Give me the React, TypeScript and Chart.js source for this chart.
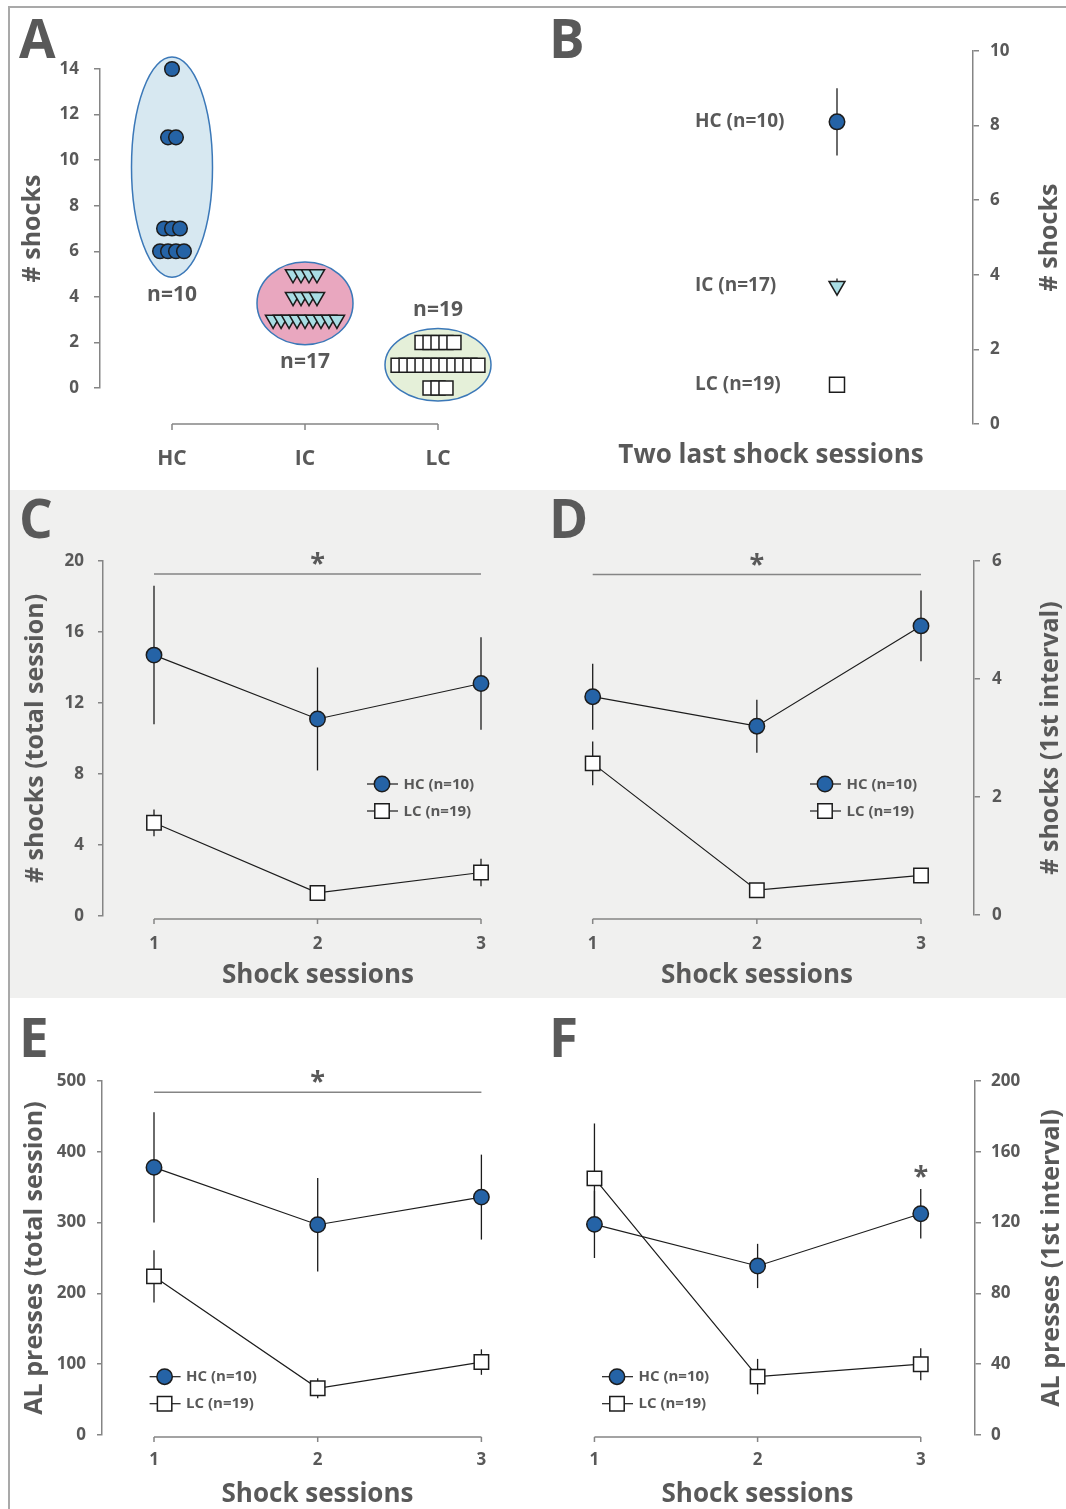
import { useEffect, useRef } from 'react';
import { Chart, registerables } from 'chart.js';
import { drawPoint } from 'chart.js/helpers';

Chart.register(...registerables);

const FONT = '"Open Sans", "Noto Sans", "DejaVu Sans", sans-serif';
const INK = '#595959';
const AXIS = '#858585';
const LINE = '#1c1c1c';
const HC_FILL = '#2563a6';
const IC_FILL = '#a9dde4';
const LC_FILL = '#ffffff';

Chart.defaults.font.family = FONT;
Chart.defaults.color = INK;

// ---------- data ----------
const groupNames = ['HC', 'IC', 'LC'];

// # shocks per rat over the two last shock sessions
const hcShocks = [14, 11, 11, 7, 7, 7, 6, 6, 6, 6];
const icShocks = [5, 5, 5, 5, 4, 4, 4, 4, 3, 3, 3, 3, 3, 3, 3, 3, 3];
const lcShocks = [2, 2, 2, 2, 2, 1, 1, 1, 1, 1, 1, 1, 1, 1, 1, 1, 0, 0, 0];

// group mean ± SEM, two last shock sessions
const lastTwoMean = [8.1, 3.7, 1.05];
const lastTwoSem = [0.9, 0.2, 0.1];

const sessions = [1, 2, 3];

const shocksTotalHC = [14.7, 11.1, 13.1];
const shocksTotalHCsem = [3.9, 2.9, 2.6];
const shocksTotalLC = [5.25, 1.3, 2.45];
const shocksTotalLCsem = [0.75, 0.4, 0.78];

const shocksFirstHC = [3.7, 3.2, 4.9];
const shocksFirstHCsem = [0.56, 0.45, 0.6];
const shocksFirstLC = [2.57, 0.42, 0.67];
const shocksFirstLCsem = [0.37, 0.1, 0.1];

const pressesTotalHC = [378, 297, 336];
const pressesTotalHCsem = [78, 66, 60];
const pressesTotalLC = [224, 66, 103];
const pressesTotalLCsem = [37, 14, 18];

const pressesFirstHC = [119, 95.5, 125];
const pressesFirstHCsem = [19, 12.5, 14];
const pressesFirstLC = [145, 33, 40];
const pressesFirstLCsem = [31, 10, 9];

// significance bars (session 1 to 3) in axis units
const sigTotalShocks = 19.27;
const sigFirstShocks = 5.77;
const sigTotalPresses = 484;

// ---------- styling ----------
type Kind = 'HC' | 'IC' | 'LC';
const MARK: Record<Kind, { pointStyle: string; rotation: number; fill: string }> = {
  HC: { pointStyle: 'circle', rotation: 0, fill: HC_FILL },
  IC: { pointStyle: 'triangle', rotation: 180, fill: IC_FILL },
  LC: { pointStyle: 'rect', rotation: 0, fill: LC_FILL },
};
const KINDS: Kind[] = ['HC', 'IC', 'LC'];
const groupSets = [hcShocks, icShocks, lcShocks];
const groupLabel = (i: number) => `${groupNames[i]} (n=${groupSets[i].length})`;

const bold = (size: number) => ({ family: FONT, size, weight: 'bold' as const });

type Rect = { x: number; y: number; w: number; h: number };
type Area = { l: number; r: number; t: number; b: number };

// axis bounds so that value v0 lands on pixel p0 and v1 on p1 inside lo..hi
function span(v0: number, p0: number, v1: number, p1: number, lo: number, hi: number) {
  const ppu = (p1 - p0) / (v1 - v0);
  return { min: v0 - (p0 - lo) / ppu, max: v0 + (hi - p0) / ppu };
}

function frame(rect: Rect, area: Area, side: 'left' | 'right') {
  return {
    padding: {
      top: area.t - rect.y,
      bottom: 0,
      left: side === 'left' ? 0 : area.l - rect.x,
      right: side === 'right' ? 0 : rect.x + rect.w - area.r,
    },
    yWidth: side === 'left' ? area.l - rect.x : rect.x + rect.w - area.r,
    xHeight: rect.y + rect.h - area.b,
  };
}

function yAxis(side: 'left' | 'right', max: number, step: number, tick: number, pad: number, width: number, title?: { text: string; gap: number }) {
  return {
    position: side,
    min: 0,
    max,
    ticks: { stepSize: step, font: bold(17), color: INK, padding: pad },
    grid: { drawOnChartArea: false, drawTicks: true, tickLength: tick, color: AXIS, lineWidth: 1.5 },
    border: { display: true, color: AXIS, width: 1.5 },
    title: title
      ? { display: true, text: title.text, font: bold(25), color: INK, padding: { top: title.gap, bottom: 0 } }
      : { display: false },
    afterFit: (s: any) => { s.width = width; },
  };
}

function xAxis(min: number, max: number, height: number, opts: { ticks?: number[]; fontSize?: number; labelPad?: number; fmt?: (v: number) => string; title?: { text: string; pad: number } }) {
  const ticks: any = {
    display: !!opts.ticks,
    font: bold(opts.fontSize ?? 17),
    color: INK,
    padding: opts.labelPad ?? 0,
    maxRotation: 0,
    autoSkip: false,
  };
  if (opts.fmt) ticks.callback = opts.fmt;
  const axis: any = {
    type: 'linear',
    min,
    max,
    ticks,
    grid: { display: false, drawTicks: false },
    border: { display: false },
    title: opts.title
      ? { display: true, text: opts.title.text, font: bold(26), color: INK, padding: { top: 0, bottom: opts.title.pad } }
      : { display: false },
    afterFit: (s: any) => { s.height = height; },
  };
  if (opts.ticks) {
    const list = opts.ticks;
    axis.afterBuildTicks = (s: any) => { s.ticks = list.map((value) => ({ value })); };
  }
  return axis;
}

// ---------- drawing helpers ----------
function drawRangeAxis(ctx: CanvasRenderingContext2D, scale: any, y: number, tick: number) {
  const ts = scale.ticks;
  const x0 = scale.getPixelForValue(ts[0].value);
  const x1 = scale.getPixelForValue(ts[ts.length - 1].value);
  ctx.strokeStyle = AXIS;
  ctx.lineWidth = 1.5;
  ctx.beginPath();
  ctx.moveTo(x0, y);
  ctx.lineTo(x1, y);
  for (const t of ts) {
    const px = scale.getPixelForValue(t.value);
    ctx.moveTo(px, y);
    ctx.lineTo(px, y + tick);
  }
  ctx.stroke();
}

function drawErrorBars(chart: any) {
  const { ctx } = chart;
  const ys = chart.scales.y;
  ctx.save();
  ctx.strokeStyle = LINE;
  ctx.lineWidth = 1.3;
  chart.data.datasets.forEach((ds: any, i: number) => {
    if (!ds.sem) return;
    const meta = chart.getDatasetMeta(i);
    meta.data.forEach((el: any, j: number) => {
      const v = ds.data[j].y;
      const e = ds.sem[j];
      ctx.beginPath();
      ctx.moveTo(el.x, ys.getPixelForValue(v + e));
      ctx.lineTo(el.x, ys.getPixelForValue(v - e));
      ctx.stroke();
    });
  });
  ctx.restore();
}

function drawStar(ctx: CanvasRenderingContext2D, x: number, baseline: number) {
  ctx.fillStyle = INK;
  ctx.font = `bold 27px ${FONT}`;
  ctx.textAlign = 'center';
  ctx.textBaseline = 'alphabetic';
  ctx.fillText('*', x, baseline);
}

function drawLetter(ctx: CanvasRenderingContext2D, letter: string, baseline: number) {
  ctx.fillStyle = INK;
  ctx.font = `bold 53px ${FONT}`;
  ctx.textAlign = 'left';
  ctx.textBaseline = 'alphabetic';
  ctx.fillText(letter, 9, baseline);
}

function drawRightTitle(ctx: CanvasRenderingContext2D, text: string, x: number, y: number) {
  ctx.save();
  ctx.translate(x, y);
  ctx.rotate(-Math.PI / 2);
  ctx.fillStyle = INK;
  ctx.font = `bold 25px ${FONT}`;
  ctx.textAlign = 'center';
  ctx.textBaseline = 'middle';
  ctx.fillText(text, 0, 0);
  ctx.restore();
}

function drawMarker(ctx: CanvasRenderingContext2D, kind: Kind, radius: number, x: number, y: number) {
  const m = MARK[kind];
  ctx.fillStyle = m.fill;
  ctx.strokeStyle = LINE;
  ctx.lineWidth = 1.5;
  drawPoint(ctx, { pointStyle: m.pointStyle as any, rotation: m.rotation, radius, borderWidth: 1.5 }, x, y);
}

function drawLegend(ctx: CanvasRenderingContext2D, chart: any, x: number, y: number) {
  chart.data.datasets.forEach((ds: any, i: number) => {
    const cy = y + i * 27;
    ctx.strokeStyle = LINE;
    ctx.lineWidth = 1.2;
    ctx.beginPath();
    ctx.moveTo(x - 15, cy);
    ctx.lineTo(x + 16, cy);
    ctx.stroke();
    drawMarker(ctx, ds.kind, ds.pointRadius, x, cy);
    ctx.fillStyle = INK;
    ctx.font = `bold 15px ${FONT}`;
    ctx.textAlign = 'left';
    ctx.textBaseline = 'middle';
    ctx.fillText(ds.label, x + 21.5, cy + 0.5);
  });
}

// ---------- panel A: individual rats ----------
const A_RECT: Rect = { x: 10, y: 8, w: 530, h: 482 };
const A_AREA: Area = { l: 100, r: 520, t: 69, b: 388 };
const A_RADIUS: Record<Kind, number> = { HC: 7.3, IC: 8.8, LC: 9.9 };
const DODGE = 0.06; // side-by-side spacing of tied values, in group units
const HULLS = [
  { fill: '#d7e8f1', padTop: 12, padBottom: 26, rx: 40.5, nBelow: true },
  { fill: '#e9a7bf', padTop: 12, padBottom: 25, rx: 48, nBelow: true },
  { fill: '#e5f0d9', padTop: 14, padBottom: 13, rx: 53, nBelow: false },
];

function dodge(values: number[], gi: number) {
  const counts = new Map<number, number>();
  values.forEach((v) => counts.set(v, (counts.get(v) || 0) + 1));
  const seen = new Map<number, number>();
  return values.map((v) => {
    const k = counts.get(v)!;
    const i = seen.get(v) || 0;
    seen.set(v, i + 1);
    return { x: gi + (i - (k - 1) / 2) * DODGE, y: v };
  });
}

function hullOf(chart: any, gi: number) {
  const xs = chart.scales.x;
  const ys = chart.scales.y;
  const vals = groupSets[gi];
  const h = HULLS[gi];
  const top = ys.getPixelForValue(Math.max(...vals)) - h.padTop;
  const bottom = ys.getPixelForValue(Math.min(...vals)) + h.padBottom;
  return { cx: xs.getPixelForValue(gi), top, bottom, rx: h.rx };
}

function makeA() {
  const { padding, yWidth, xHeight } = frame(A_RECT, A_AREA, 'left');
  const xr = span(0, 172, 2, 438, A_AREA.l, A_AREA.r);
  return {
    type: 'scatter',
    data: {
      datasets: groupSets.map((vals, gi) => {
        const kind = KINDS[gi];
        return {
          label: groupNames[gi],
          kind,
          data: dodge(vals, gi),
          pointStyle: MARK[kind].pointStyle,
          pointRotation: MARK[kind].rotation,
          pointRadius: A_RADIUS[kind],
          pointBackgroundColor: MARK[kind].fill,
          pointBorderColor: LINE,
          pointBorderWidth: 1.5,
          showLine: false,
          clip: false,
        };
      }),
    },
    options: {
      responsive: false,
      animation: false,
      events: [],
      layout: { autoPadding: false, padding },
      plugins: { legend: { display: false }, tooltip: { enabled: false } },
      scales: {
        x: xAxis(xr.min, xr.max, xHeight, {
          ticks: [0, 1, 2],
          fontSize: 21,
          labelPad: 58.4,
          fmt: (v: number) => groupNames[Math.round(v)],
        }),
        y: yAxis('left', 14, 2, 6, 15, yWidth, { text: '# shocks', gap: 8 }),
      },
    },
    plugins: [
      {
        id: 'groupDecor',
        beforeDatasetsDraw(chart: any) {
          const { ctx } = chart;
          ctx.save();
          HULLS.forEach((h, gi) => {
            const e = hullOf(chart, gi);
            ctx.beginPath();
            ctx.ellipse(e.cx, (e.top + e.bottom) / 2, e.rx, (e.bottom - e.top) / 2, 0, 0, Math.PI * 2);
            ctx.fillStyle = h.fill;
            ctx.fill();
            ctx.strokeStyle = '#3b78b8';
            ctx.lineWidth = 1.5;
            ctx.stroke();
          });
          ctx.restore();
        },
        afterDraw(chart: any) {
          const { ctx, chartArea } = chart;
          ctx.save();
          drawRangeAxis(ctx, chart.scales.x, chartArea.bottom + 36, 6);
          HULLS.forEach((h, gi) => {
            const e = hullOf(chart, gi);
            ctx.fillStyle = INK;
            ctx.font = `bold 21px ${FONT}`;
            ctx.textAlign = 'center';
            ctx.textBaseline = 'middle';
            const y = h.nBelow ? e.bottom + 17.5 : e.top - 18.5;
            ctx.fillText(`n=${groupSets[gi].length}`, e.cx, y);
          });
          drawLetter(ctx, 'A', 50);
          ctx.restore();
        },
      },
    ],
  };
}

// ---------- panel B: group means ----------
const B_RECT: Rect = { x: 540, y: 8, w: 526, h: 482 };
const B_AREA: Area = { l: 569, r: 973, t: 51, b: 424 };
const B_RADIUS: Record<Kind, number> = { HC: 7.75, IC: 9.2, LC: 10.6 };

function makeB() {
  const { padding, yWidth, xHeight } = frame(B_RECT, B_AREA, 'right');
  const xr = span(0, 837, 1, 937, B_AREA.l, B_AREA.r);
  return {
    type: 'scatter',
    data: {
      datasets: [
        {
          label: 'Two last shock sessions',
          data: lastTwoMean.map((y) => ({ x: 0, y })),
          sem: lastTwoSem,
          pointStyle: KINDS.map((k) => MARK[k].pointStyle),
          pointRotation: KINDS.map((k) => MARK[k].rotation),
          pointRadius: KINDS.map((k) => B_RADIUS[k]),
          pointBackgroundColor: KINDS.map((k) => MARK[k].fill),
          pointBorderColor: LINE,
          pointBorderWidth: 1.5,
          showLine: false,
          clip: false,
        },
      ],
    },
    options: {
      responsive: false,
      animation: false,
      events: [],
      layout: { autoPadding: false, padding },
      plugins: { legend: { display: false }, tooltip: { enabled: false } },
      scales: {
        x: xAxis(xr.min, xr.max, xHeight, { title: { text: 'Two last shock sessions', pad: 18.4 } }),
        y: yAxis('right', 10, 2, 6, 11, yWidth),
      },
    },
    plugins: [
      {
        id: 'meanDecor',
        beforeDatasetsDraw(chart: any) { drawErrorBars(chart); },
        afterDraw(chart: any) {
          const { ctx, chartArea } = chart;
          ctx.save();
          const meta = chart.getDatasetMeta(0);
          meta.data.forEach((el: any, i: number) => {
            ctx.fillStyle = INK;
            ctx.font = `bold 19px ${FONT}`;
            ctx.textAlign = 'left';
            ctx.textBaseline = 'middle';
            ctx.fillText(groupLabel(i), el.x - 142, el.y);
          });
          drawRightTitle(ctx, '# shocks', chartArea.right + 77, (chartArea.top + chartArea.bottom) / 2);
          drawLetter(ctx, 'B', 50);
          ctx.restore();
        },
      },
    ],
  };
}

// ---------- panels C–F: shock sessions ----------
type SessionSpec = {
  letter: string;
  letterBaseline: number;
  rect: Rect;
  area: Area;
  side: 'left' | 'right';
  xAt: [number, number];
  yMax: number;
  yStep: number;
  yTitle: string;
  yTick: number;
  yPad: number;
  yTitleGap: number;
  xLabelPad: number;
  xTitlePad: number;
  xAxisGap: number;
  hc: number[];
  hcSem: number[];
  lc: number[];
  lcSem: number[];
  sigLevel?: number;
  starOverSession?: number;
  legendAt: [number, number];
};

const S_RADIUS: Record<Kind, number> = { HC: 7.7, IC: 8.8, LC: 10.2 };

function seriesStyle(kind: Kind) {
  return {
    kind,
    borderColor: LINE,
    borderWidth: 1.2,
    pointStyle: MARK[kind].pointStyle,
    pointRotation: MARK[kind].rotation,
    pointRadius: S_RADIUS[kind],
    pointBackgroundColor: MARK[kind].fill,
    pointBorderColor: LINE,
    pointBorderWidth: 1.5,
    tension: 0,
    clip: false,
  };
}

function makeSession(s: SessionSpec) {
  const { padding, yWidth, xHeight } = frame(s.rect, s.area, s.side);
  const xr = span(sessions[0], s.xAt[0], sessions[2], s.xAt[1], s.area.l, s.area.r);
  return {
    type: 'line',
    data: {
      datasets: [
        { label: groupLabel(0), data: sessions.map((x, i) => ({ x, y: s.hc[i] })), sem: s.hcSem, ...seriesStyle('HC') },
        { label: groupLabel(2), data: sessions.map((x, i) => ({ x, y: s.lc[i] })), sem: s.lcSem, ...seriesStyle('LC') },
      ],
    },
    options: {
      responsive: false,
      animation: false,
      events: [],
      layout: { autoPadding: false, padding },
      plugins: { legend: { display: false }, tooltip: { enabled: false } },
      scales: {
        x: xAxis(xr.min, xr.max, xHeight, {
          ticks: sessions,
          labelPad: s.xLabelPad,
          title: { text: 'Shock sessions', pad: s.xTitlePad },
        }),
        y: yAxis(
          s.side, s.yMax, s.yStep, s.yTick, s.yPad, yWidth,
          s.side === 'left' ? { text: s.yTitle, gap: s.yTitleGap } : undefined,
        ),
      },
    },
    plugins: [
      {
        id: 'sessionDecor',
        beforeDatasetsDraw(chart: any) { drawErrorBars(chart); },
        afterDraw(chart: any) {
          const { ctx, chartArea } = chart;
          const xs = chart.scales.x;
          const ys = chart.scales.y;
          ctx.save();
          drawRangeAxis(ctx, xs, chartArea.bottom + s.xAxisGap, 5);
          if (s.sigLevel != null) {
            const y = ys.getPixelForValue(s.sigLevel);
            const x0 = xs.getPixelForValue(sessions[0]);
            const x1 = xs.getPixelForValue(sessions[sessions.length - 1]);
            ctx.strokeStyle = AXIS;
            ctx.lineWidth = 1.5;
            ctx.beginPath();
            ctx.moveTo(x0, y);
            ctx.lineTo(x1, y);
            ctx.stroke();
            drawStar(ctx, (x0 + x1) / 2, y - 2);
          }
          if (s.starOverSession != null) {
            const i = sessions.indexOf(s.starOverSession);
            const top = ys.getPixelForValue(s.hc[i] + s.hcSem[i]);
            drawStar(ctx, xs.getPixelForValue(s.starOverSession), top - 4);
          }
          drawLegend(ctx, chart, s.legendAt[0] - s.rect.x, s.legendAt[1] - s.rect.y);
          if (s.side === 'right') {
            drawRightTitle(ctx, s.yTitle, chartArea.right + s.yTitleGap, (chartArea.top + chartArea.bottom) / 2);
          }
          drawLetter(ctx, s.letter, s.letterBaseline);
          ctx.restore();
        },
      },
    ],
  };
}

const SPEC_C: SessionSpec = {
  letter: 'C', letterBaseline: 48,
  rect: { x: 10, y: 490, w: 530, h: 508 }, area: { l: 103, r: 533, t: 561, b: 916 }, side: 'left',
  xAt: [154, 481], yMax: 20, yStep: 4, yTitle: '# shocks (total session)', yTick: 5, yPad: 14, yTitleGap: 10.5,
  xLabelPad: 17.8, xTitlePad: 6.4, xAxisGap: 3,
  hc: shocksTotalHC, hcSem: shocksTotalHCsem, lc: shocksTotalLC, lcSem: shocksTotalLCsem,
  sigLevel: sigTotalShocks, legendAt: [382, 784],
};

const SPEC_D: SessionSpec = {
  letter: 'D', letterBaseline: 48,
  rect: { x: 540, y: 490, w: 526, h: 508 }, area: { l: 540, r: 974, t: 561, b: 915 }, side: 'right',
  xAt: [592.7, 921], yMax: 6, yStep: 2, yTitle: '# shocks (1st interval)', yTick: 6, yPad: 12, yTitleGap: 77,
  xLabelPad: 18.8, xTitlePad: 6.4, xAxisGap: 4,
  hc: shocksFirstHC, hcSem: shocksFirstHCsem, lc: shocksFirstLC, lcSem: shocksFirstLCsem,
  sigLevel: sigFirstShocks, legendAt: [825, 784],
};

const SPEC_E: SessionSpec = {
  letter: 'E', letterBaseline: 59,
  rect: { x: 10, y: 998, w: 530, h: 511 }, area: { l: 102, r: 533, t: 1081, b: 1435 }, side: 'left',
  xAt: [154, 481.4], yMax: 500, yStep: 100, yTitle: 'AL presses (total session)', yTick: 5, yPad: 11, yTitleGap: 10,
  xLabelPad: 14.8, xTitlePad: -1.3, xAxisGap: 2,
  hc: pressesTotalHC, hcSem: pressesTotalHCsem, lc: pressesTotalLC, lcSem: pressesTotalLCsem,
  sigLevel: sigTotalPresses, legendAt: [164.6, 1376.7],
};

const SPEC_F: SessionSpec = {
  letter: 'F', letterBaseline: 59,
  rect: { x: 540, y: 998, w: 526, h: 511 }, area: { l: 538, r: 975, t: 1081, b: 1435 }, side: 'right',
  xAt: [592.7, 920.5], yMax: 200, yStep: 40, yTitle: 'AL presses (1st interval)', yTick: 6, yPad: 10, yTitleGap: 77,
  xLabelPad: 14.8, xTitlePad: -1.3, xAxisGap: 2,
  hc: pressesFirstHC, hcSem: pressesFirstHCsem, lc: pressesFirstLC, lcSem: pressesFirstLCsem,
  starOverSession: 3, legendAt: [617, 1376.7],
};

const makeC = () => makeSession(SPEC_C);
const makeD = () => makeSession(SPEC_D);
const makeE = () => makeSession(SPEC_E);
const makeF = () => makeSession(SPEC_F);

function ChartPanel({ rect, make }: { rect: Rect; make: () => any }) {
  const ref = useRef<HTMLCanvasElement | null>(null);
  useEffect(() => {
    if (!ref.current) return;
    const chart = new Chart(ref.current, make());
    return () => chart.destroy();
  }, [make]);
  return (
    <canvas
      ref={ref}
      width={rect.w}
      height={rect.h}
      style={{ position: 'absolute', left: rect.x, top: rect.y, width: rect.w, height: rect.h }}
    />
  );
}

export default function App() {
  return (
    <div style={{ position: 'absolute', left: 0, top: 0, width: 1066, height: 1509, background: '#ffffff', overflow: 'hidden' }}>
      <div style={{ position: 'absolute', left: 10, top: 490, width: 1056, height: 508, background: '#f0f0ef' }} />
      <div style={{ position: 'absolute', left: 8, top: 6, width: 1058, height: 2, background: '#a9a9a9' }} />
      <div style={{ position: 'absolute', left: 8, top: 6, width: 2, height: 1503, background: '#a9a9a9' }} />
      <ChartPanel rect={A_RECT} make={makeA} />
      <ChartPanel rect={B_RECT} make={makeB} />
      <ChartPanel rect={SPEC_C.rect} make={makeC} />
      <ChartPanel rect={SPEC_D.rect} make={makeD} />
      <ChartPanel rect={SPEC_E.rect} make={makeE} />
      <ChartPanel rect={SPEC_F.rect} make={makeF} />
    </div>
  );
}
